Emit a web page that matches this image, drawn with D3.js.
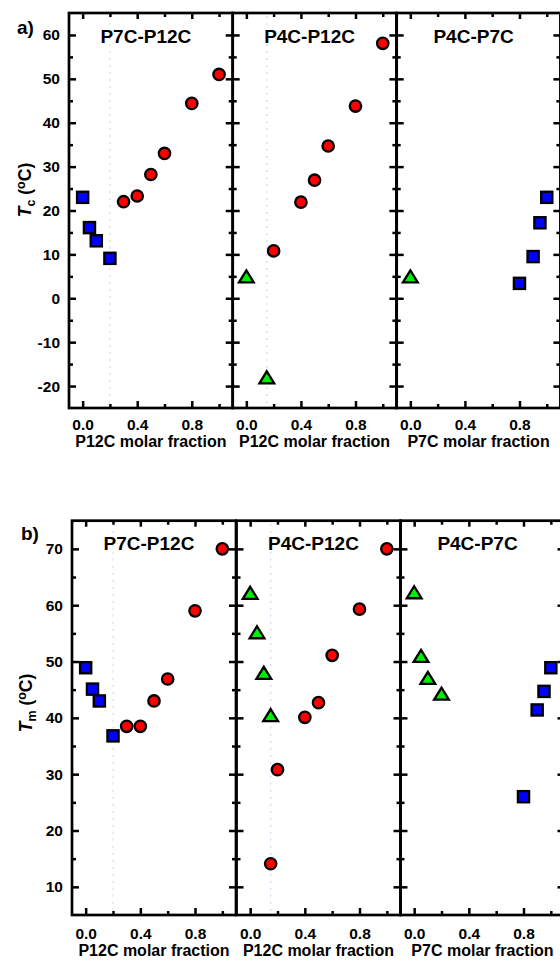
<!DOCTYPE html>
<html><head><meta charset="utf-8">
<script src="https://cdn.jsdelivr.net/npm/d3@7/dist/d3.min.js"></script>
<style>
body{margin:0;background:#fff}
svg{display:block}
text{font-family:"Liberation Sans",Arial,sans-serif;font-weight:bold;fill:#000}
</style>
</head><body>
<svg id="c" width="560" height="960"></svg>
<script>
// ---------- data ----------
const panelTitles = ["P7C-P12C", "P4C-P12C", "P4C-P7C"];
const xAxisTitles = ["P12C molar fraction", "P12C molar fraction", "P7C molar fraction"];
const xTickValues = [0.0, 0.4, 0.8];
const xMinorValues = [0.2, 0.6, 1.0];
const tcTicks = [-20, -10, 0, 10, 20, 30, 40, 50, 60];
const tcMinor = [-15, -5, 5, 15, 25, 35, 45, 55];
const tmTicks = [10, 20, 30, 40, 50, 60, 70];
const tmMinor = [15, 25, 35, 45, 55, 65];
const guideLineX = [0.2, 0.15, null];

// (a) Tc
const tcP7P12_squares = [[0, 23], [0.05, 16.1], [0.1, 13.1], [0.2, 9.1]];
const tcP7P12_circles = [[0.3, 22], [0.4, 23.3], [0.5, 28.2], [0.6, 33], [0.8, 44.4], [1.0, 51]];
const tcP4P12_circles = [[0.2, 10.8], [0.4, 21.9], [0.5, 26.9], [0.6, 34.7], [0.8, 43.8], [1.0, 58.1]];
const tcP4P12_triangles = [[0, 5], [0.15, -18]];
const tcP4P7_triangles = [[0, 5]];
const tcP4P7_squares = [[0.8, 3.4], [0.9, 9.5], [0.95, 17.2], [1.0, 23]];

// (b) Tm
const tmP7P12_squares = [[0, 48.9], [0.05, 45.1], [0.1, 43], [0.2, 36.8]];
const tmP7P12_circles = [[0.3, 38.5], [0.4, 38.5], [0.5, 43], [0.6, 46.9], [0.8, 59], [1.0, 70]];
const tmP4P12_circles = [[0.15, 14.1], [0.2, 30.8], [0.4, 40.1], [0.5, 42.7], [0.6, 51.1], [0.8, 59.3], [1.0, 70]];
const tmP4P12_triangles = [[0, 62.2], [0.05, 55.2], [0.1, 48], [0.15, 40.5]];
const tmP4P7_triangles = [[0, 62.3], [0.05, 51], [0.1, 47.1], [0.2, 44.3]];
const tmP4P7_squares = [[0.8, 26], [0.9, 41.4], [0.95, 44.7], [1.0, 48.9]];

// ---------- drawing ----------
const svg = d3.select("#c");
const FONT = '"Liberation Sans", Arial, sans-serif';
const guideColors = ["#cfe6cf", "#d4d4f2", null];

function drawBlock(cfg) {
  const y = d3.scaleLinear().domain(cfg.yDomain).range([cfg.bottom, cfg.top]);
  cfg.lefts.forEach((left, i) => {
    const right = left + cfg.width;
    const x = d3.scaleLinear().domain([-0.1, 1.1]).range([left, right]);
    const g = svg.append("g");

    if (guideLineX[i] !== null) {
      g.append("line")
        .attr("x1", x(guideLineX[i])).attr("x2", x(guideLineX[i]))
        .attr("y1", cfg.top + 3).attr("y2", cfg.bottom - 3)
        .attr("stroke", guideColors[i]).attr("stroke-width", 1.2)
        .attr("stroke-dasharray", "2,5");
    }

    const styleAxis = (sel) => {
      sel.select(".domain").remove();
      sel.selectAll(".tick line").attr("stroke", "#000").attr("stroke-width", 2.5);
      sel.attr("font-family", FONT).attr("font-size", 15.5).attr("font-weight", "bold");
      sel.selectAll("text").attr("fill", "#000");
    };

    g.append("g").attr("transform", `translate(0,${cfg.bottom})`)
      .call(d3.axisBottom(x).tickValues(xTickValues).tickFormat(d => d.toFixed(1))
        .tickSizeInner(-7).tickSizeOuter(0).tickPadding(cfg.xLabelPad))
      .call(styleAxis);
    g.append("g").attr("transform", `translate(0,${cfg.bottom})`)
      .call(d3.axisBottom(x).tickValues(xMinorValues).tickFormat("").tickSizeInner(-4).tickSizeOuter(0))
      .call(styleAxis);
    g.append("g").attr("transform", `translate(0,${cfg.top})`)
      .call(d3.axisTop(x).tickValues(xTickValues).tickFormat("").tickSizeInner(-6).tickSizeOuter(0))
      .call(styleAxis);
    g.append("g").attr("transform", `translate(0,${cfg.top})`)
      .call(d3.axisTop(x).tickValues(xMinorValues).tickFormat("").tickSizeInner(-4).tickSizeOuter(0))
      .call(styleAxis);
    const la = d3.axisLeft(y).tickValues(cfg.yTicks).tickSizeInner(-7).tickSizeOuter(0).tickPadding(9)
      .tickFormat(i > 0 ? "" : (d => String(d)));
    g.append("g").attr("transform", `translate(${left},0)`).call(la).call(styleAxis);
    g.append("g").attr("transform", `translate(${left},0)`)
      .call(d3.axisLeft(y).tickValues(cfg.yMinor).tickFormat("").tickSizeInner(-4).tickSizeOuter(0))
      .call(styleAxis);
    g.append("g").attr("transform", `translate(${right},0)`)
      .call(d3.axisRight(y).tickValues(cfg.yTicks).tickFormat("").tickSizeInner(-7).tickSizeOuter(0))
      .call(styleAxis);
    g.append("g").attr("transform", `translate(${right},0)`)
      .call(d3.axisRight(y).tickValues(cfg.yMinor).tickFormat("").tickSizeInner(-4).tickSizeOuter(0))
      .call(styleAxis);

    g.append("rect").attr("x", left).attr("y", cfg.top)
      .attr("width", cfg.width).attr("height", cfg.bottom - cfg.top)
      .attr("fill", "none").attr("stroke", "#000").attr("stroke-width", 2.7);

    g.append("text").attr("x", (left + right) / 2 - 5).attr("y", cfg.top + 29.5)
      .attr("text-anchor", "middle").attr("font-size", 19).text(panelTitles[i]);

    g.append("text").attr("x", (left + right) / 2).attr("y", cfg.xTitleY)
      .attr("text-anchor", "middle").attr("font-size", 16).text(xAxisTitles[i]);

    const s = cfg.series[i];
    (s.squares || []).forEach(d => {
      g.append("rect").attr("x", x(d[0]) - 5.6).attr("y", y(d[1]) - 5.6)
        .attr("width", 11.2).attr("height", 11.2)
        .attr("fill", "#0000ff").attr("stroke", "#000").attr("stroke-width", 2.3);
    });
    (s.circles || []).forEach(d => {
      g.append("circle").attr("cx", x(d[0])).attr("cy", y(d[1])).attr("r", 5.7)
        .attr("fill", "#ff0000").attr("stroke", "#000").attr("stroke-width", 2.3);
    });
    (s.triangles || []).forEach(d => {
      const cx = x(d[0]), cy = y(d[1]), w = 7.4, h = 6;
      g.append("path")
        .attr("d", `M${cx},${cy - h}L${cx + w},${cy + h}L${cx - w},${cy + h}Z`)
        .attr("fill", "#00ee00").attr("stroke", "#000").attr("stroke-width", 2.3)
        .attr("stroke-linejoin", "miter");
    });
  });

  svg.append("text").attr("x", cfg.letterX).attr("y", cfg.letterY)
    .attr("font-size", 19).text(cfg.letter);

  const yt = svg.append("text")
    .attr("transform", `translate(${cfg.yTitleX},${cfg.yTitleY}) rotate(-90)`)
    .attr("text-anchor", "middle").attr("font-size", 17.5);
  yt.append("tspan").attr("font-style", "italic").text("T");
  yt.append("tspan").attr("font-size", 12.5).attr("dy", 4).text(cfg.sub);
  yt.append("tspan").attr("dy", -4).text(" (");
  yt.append("tspan").attr("font-size", 12.5).attr("dy", -6).text("o");
  yt.append("tspan").attr("dy", 6).text("C)");
}

drawBlock({
  top: 13, bottom: 408, lefts: [69, 232.7, 396.7], width: 163.7,
  yDomain: [-25, 65], yTicks: tcTicks, yMinor: tcMinor,
  xLabelPad: 10.5, xTitleY: 447,
  letter: "a)", letterX: 17, letterY: 34,
  sub: "c", yTitleX: 31, yTitleY: 190,
  series: [
    {squares: tcP7P12_squares, circles: tcP7P12_circles},
    {circles: tcP4P12_circles, triangles: tcP4P12_triangles},
    {squares: tcP4P7_squares, triangles: tcP4P7_triangles}
  ]
});

drawBlock({
  top: 520.7, bottom: 915, lefts: [72, 236.5, 400.5], width: 164,
  yDomain: [5, 75], yTicks: tmTicks, yMinor: tmMinor,
  xLabelPad: 13, xTitleY: 956,
  letter: "b)", letterX: 21, letterY: 540,
  sub: "m", yTitleX: 32, yTitleY: 703,
  series: [
    {squares: tmP7P12_squares, circles: tmP7P12_circles},
    {circles: tmP4P12_circles, triangles: tmP4P12_triangles},
    {squares: tmP4P7_squares, triangles: tmP4P7_triangles}
  ]
});
</script>
</body></html>
